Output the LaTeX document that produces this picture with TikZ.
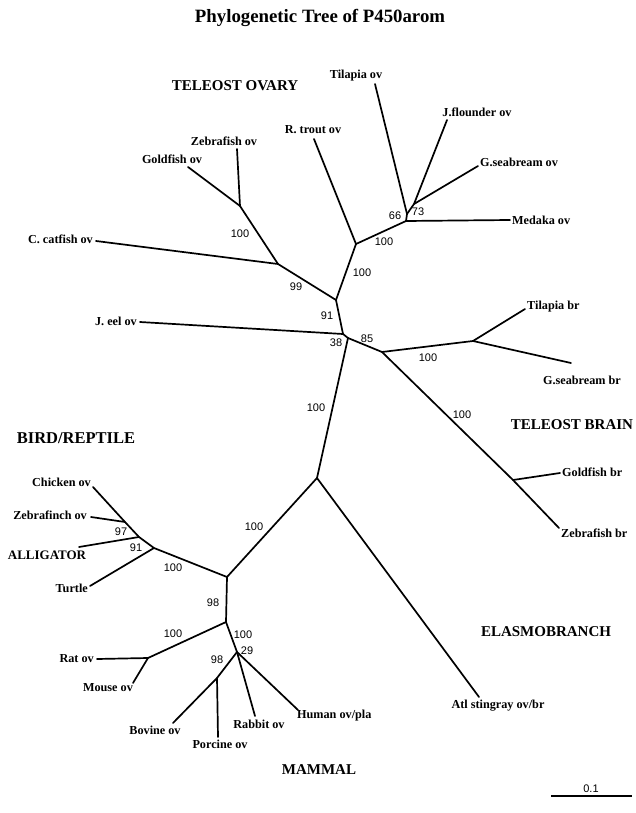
\documentclass[tikz,border=0pt]{standalone}
\usepackage{fontspec}
\setmainfont{Liberation Serif}
\newfontfamily\numfont{Liberation Sans}
\usetikzlibrary{positioning}
\tikzset{
  br/.style={line width=1.7pt,line cap=round,line join=round},
  leaf/.style={font=\fontsize{12.2}{14}\selectfont\bfseries,inner sep=0pt},
  grp/.style={font=\fontsize{15}{17}\selectfont\bfseries,inner sep=0pt},
  bs/.style={font=\numfont\fontsize{11}{13}\selectfont,inner sep=0pt},
}

\begin{document}
\begin{tikzpicture}[x=1pt,y=-1pt]
\useasboundingbox (0,0) rectangle (636,813);
\node[font=\fontsize{18.8}{21}\selectfont\bfseries] (title) at (320,18) {Phylogenetic Tree of P450arom};

% inner nodes
\coordinate (ovA) at (406,221);
\coordinate (ovT) at (407,214);
\coordinate (ovB) at (414,204);
\coordinate (ovC) at (356,244);
\coordinate (ovD) at (336,300);
\coordinate (ovE) at (240,206);
\coordinate (ovF) at (278,264);
\coordinate (ovG) at (343,334);
\coordinate (rtS) at (348,338);
\coordinate (brH) at (382,352);
\coordinate (brI) at (473,341);
\coordinate (brK) at (513,480);
\coordinate (rtJ) at (317,478);
\coordinate (bdN) at (227,577);
\coordinate (bdA) at (125,522);
\coordinate (bdB) at (139,537);
\coordinate (bdC) at (154,548);
\coordinate (mmO) at (226,622);
\coordinate (mmP) at (148,658);
\coordinate (mmQ) at (237,652);
\coordinate (mmR) at (217,678);

% leaf ends
\coordinate (tilov) at (375,84);
\coordinate (jflov) at (447,120);
\coordinate (gsbov) at (478,166);
\coordinate (medov) at (510,220);
\coordinate (rtrov) at (314,139);
\coordinate (zbfov) at (237,149);
\coordinate (gldov) at (188,167);
\coordinate (catov) at (96,241);
\coordinate (eelov) at (140,322);
\coordinate (tilbr) at (525,309);
\coordinate (gsbbr) at (571,363);
\coordinate (gldbr) at (560,473);
\coordinate (zbfbr) at (559,528);
\coordinate (stray) at (479,697);
\coordinate (chick) at (93,487);
\coordinate (finch) at (91,517);
\coordinate (allig) at (79,547);
\coordinate (turtl) at (90,586);
\coordinate (rat) at (97,659);
\coordinate (mouse) at (133,683);
\coordinate (bovin) at (173,723);
\coordinate (porci) at (218,737);
\coordinate (rabbt) at (255,716);
\coordinate (human) at (298,710);

% branches
\draw[br] (ovA) -- (medov);
\draw[br] (ovA) -- (ovT) -- (tilov);
\draw[br] (ovT) -- (ovB) -- (jflov);
\draw[br] (ovB) -- (gsbov);
\draw[br] (ovC) -- (ovA);
\draw[br] (ovC) -- (rtrov);
\draw[br] (ovC) -- (ovD);
\draw[br] (ovE) -- (zbfov);
\draw[br] (ovE) -- (gldov);
\draw[br] (ovF) -- (ovE);
\draw[br] (ovF) -- (catov);
\draw[br] (ovF) -- (ovD);
\draw[br] (ovD) -- (ovG);
\draw[br] (eelov) -- (ovG) -- (rtS);
\draw[br] (rtS) -- (brH) -- (brI) -- (tilbr);
\draw[br] (brI) -- (gsbbr);
\draw[br] (brH) -- (brK) -- (gldbr);
\draw[br] (brK) -- (zbfbr);
\draw[br] (rtS) -- (rtJ);
\draw[br] (rtJ) -- (stray);
\draw[br] (rtJ) -- (bdN);
\draw[br] (bdN) -- (bdC) -- (bdB) -- (bdA) -- (chick);
\draw[br] (bdA) -- (finch);
\draw[br] (bdB) -- (allig);
\draw[br] (bdC) -- (turtl);
\draw[br] (bdN) -- (mmO);
\draw[br] (mmO) -- (mmP) -- (rat);
\draw[br] (mmP) -- (mouse);
\draw[br] (mmO) -- (mmQ) -- (mmR) -- (bovin);
\draw[br] (mmR) -- (porci);
\draw[br] (mmQ) -- (rabbt);
\draw[br] (mmQ) -- (human);

% leaf labels
\node[leaf] (ltilov) at (356,76) {Tilapia ov};
\node[leaf] (ljflov) at (477,112) {J.flounder ov};
\node[leaf,anchor=west] (lgsbov) at (480,162) {G.seabream ov};
\node[leaf,anchor=west] (lmedov) at (512,220) {Medaka ov};
\node[leaf] (lrtrov) at (313,130) {R. trout ov};
\node[leaf] (lzbfov) at (224,141) {Zebrafish ov};
\node[leaf] (lgldov) at (172,159) {Goldfish ov};
\node[leaf,anchor=east] (lcatov) at (93,239) {C. catfish ov};
\node[leaf,anchor=east] (leelov) at (137,321) {J. eel ov};
\node[leaf,anchor=west] (ltilbr) at (527,307) {Tilapia br};
\node[leaf] (lgsbbr) at (582,380) {G.seabream br};
\node[leaf,anchor=west] (lgldbr) at (562,472) {Goldfish br};
\node[leaf,anchor=west] (lzbfbr) at (561,533) {Zebrafish br};
\node[leaf] (lstray) at (498,706) {Atl stingray ov/br};
\node[leaf,anchor=east] (lchick) at (91,482) {Chicken ov};
\node[leaf,anchor=east] (lfinch) at (87,515) {Zebrafinch ov};
\node[leaf,anchor=east] (lturtl) at (88,588) {Turtle};
\node[leaf,anchor=east] (lrat) at (94,659) {Rat ov};
\node[leaf] (lmouse) at (108,688) {Mouse ov};
\node[leaf] (lbovin) at (155,730) {Bovine ov};
\node[leaf] (lporci) at (220,744) {Porcine ov};
\node[leaf] (lrabbt) at (259,724) {Rabbit ov};
\node[leaf,anchor=west] (lhuman) at (297,716) {Human ov/pla};

% group labels
\node[grp] (gtov) at (235,86) {TELEOST OVARY};
\node[grp] (gtbr) at (572,425) {TELEOST BRAIN};
\node[grp,font=\fontsize{16.5}{19}\selectfont\bfseries] (gbird) at (76,438) {BIRD/REPTILE};
\node[grp,font=\fontsize{13}{15}\selectfont\bfseries] (gall) at (47,555) {ALLIGATOR};
\node[grp] (gelas) at (546,632) {ELASMOBRANCH};
\node[grp] (gmam) at (319,770) {MAMMAL};

% bootstrap values
\node[bs] at (395,216) {66};
\node[bs] at (418,212) {73};
\node[bs] at (384,242) {100};
\node[bs] at (362,273) {100};
\node[bs] at (240,234) {100};
\node[bs] at (296,287) {99};
\node[bs] at (327,316) {91};
\node[bs] at (336,343) {38};
\node[bs] at (367,339) {85};
\node[bs] at (428,358) {100};
\node[bs] at (462,415) {100};
\node[bs] at (316,408) {100};
\node[bs] at (254,527) {100};
\node[bs] at (173,568) {100};
\node[bs] at (121,532) {97};
\node[bs] at (136,548) {91};
\node[bs] at (213,603) {98};
\node[bs] at (173,634) {100};
\node[bs] at (243,635) {100};
\node[bs] at (247,651) {29};
\node[bs] at (217,660) {98};

% scale bar
\coordinate (sbl) at (551,796);
\coordinate (sbr) at (632,796);
\draw[line width=1.4pt] (sbl) -- (sbr);
\node[bs] (sbt) at (591,789) {0.1};
\end{tikzpicture}
\end{document}
